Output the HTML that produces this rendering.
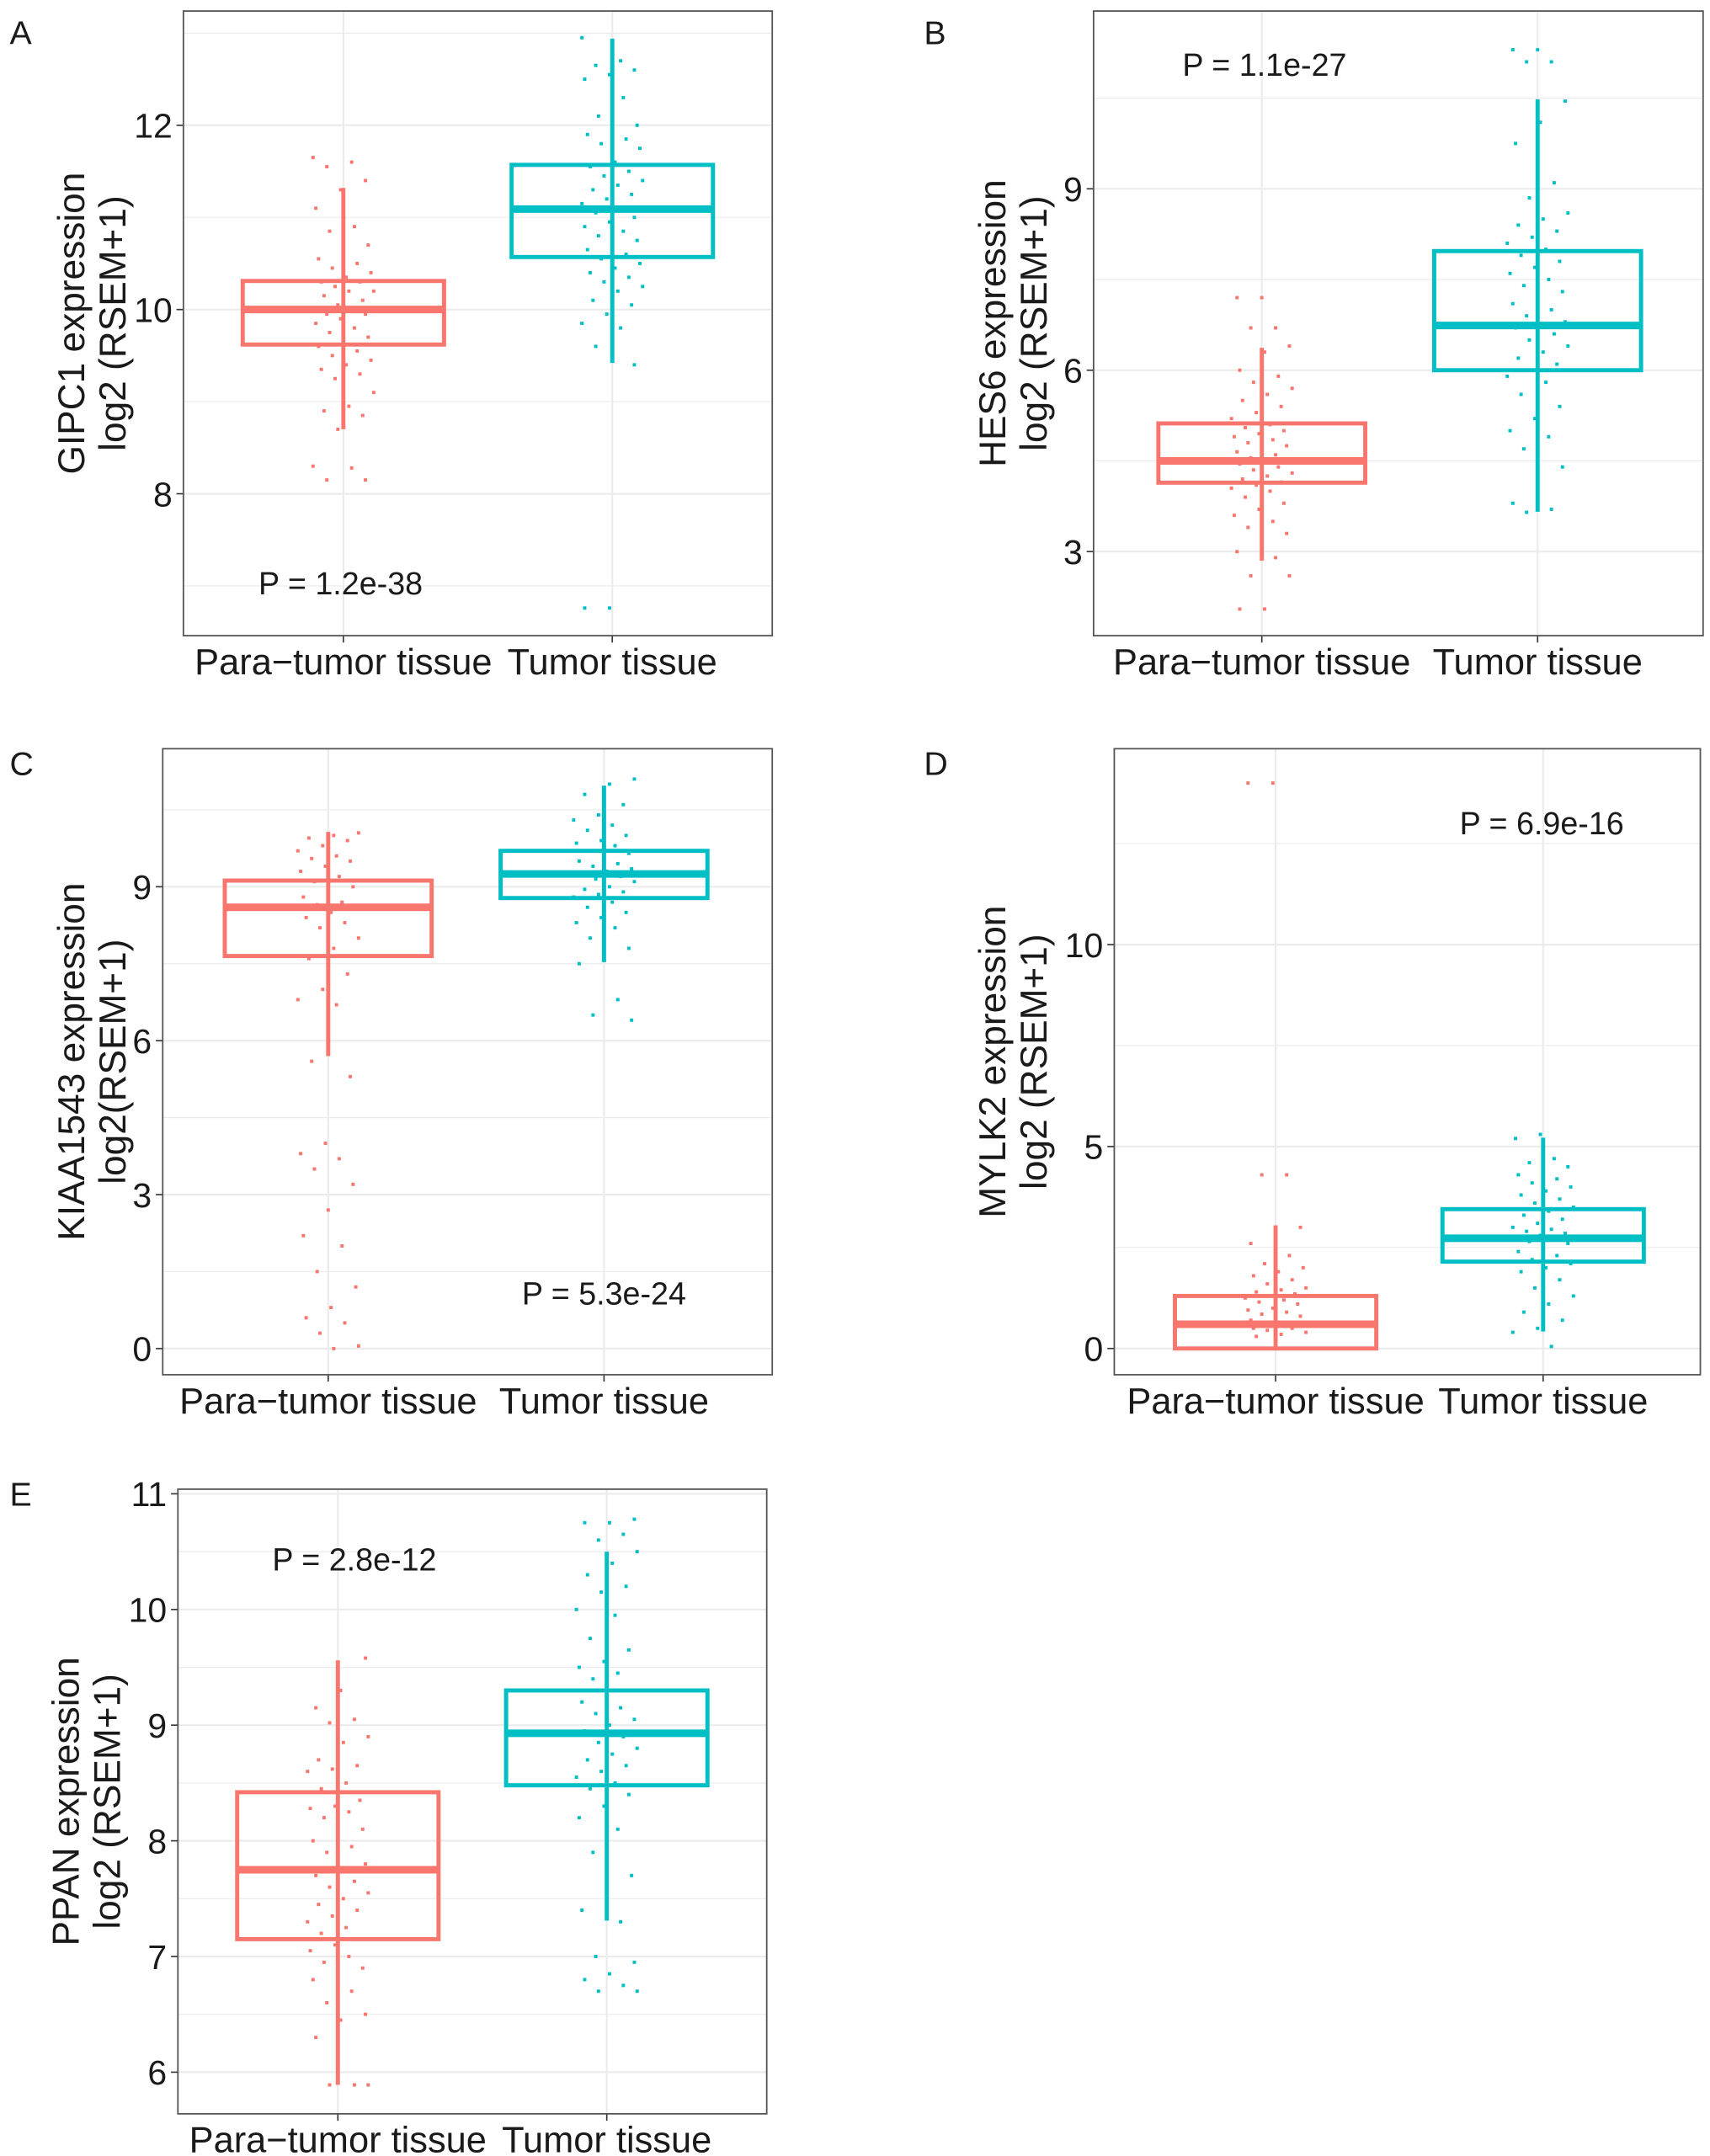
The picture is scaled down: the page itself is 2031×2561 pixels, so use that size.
<!DOCTYPE html>
<html><head><meta charset="utf-8">
<style>
html,body{margin:0;padding:0;background:#fff;}
svg{display:block;}
text{font-family:"Liberation Sans",Arial,sans-serif;fill:#1a1a1a;}
</style></head>
<body>
<svg id="fig" width="2031" height="2561" viewBox="0 0 1240 1563.6" preserveAspectRatio="none" xmlns="http://www.w3.org/2000/svg"></svg>
<script>
// ---------- data ----------
const categories = ["Para\u2212tumor tissue", "Tumor tissue"];

const panelLetters = ["A","B","C","D","E"];
const geneLabels = ["GIPC1 expression","HES6 expression","KIAA1543 expression","MYLK2 expression","PPAN expression"];
const unitLabels = ["log2 (RSEM+1)","log2 (RSEM+1)","log2(RSEM+1)","log2 (RSEM+1)","log2 (RSEM+1)"];
const pLabels = ["P = 1.2e-38","P = 1.1e-27","P = 5.3e-24","P = 6.9e-16","P = 2.8e-12"];

const ticksA = [8,10,12];
const ticksB = [3,6,9];
const ticksC = [0,3,6,9];
const ticksD = [0,5,10];
const ticksE = [6,7,8,9,10,11];

// box stats: [lowerWhisker, Q1, median, Q3, upperWhisker]
const boxA_para = [8.7, 9.62, 10.0, 10.31, 11.32];
const boxA_tumor = [9.42, 10.57, 11.09, 11.57, 12.94];
const boxB_para = [2.85, 4.14, 4.5, 5.12, 6.37];
const boxB_tumor = [3.66, 6.0, 6.74, 7.97, 10.48];
const boxC_para = [5.7, 7.65, 8.6, 9.12, 10.07];
const boxC_tumor = [7.53, 8.78, 9.25, 9.7, 10.97];
const boxD_para = [0.0, 0.0, 0.6, 1.3, 3.05];
const boxD_tumor = [0.42, 2.15, 2.73, 3.45, 5.22];
const boxE_para = [5.89, 7.15, 7.75, 8.42, 9.56];
const boxE_tumor = [7.31, 8.48, 8.93, 9.3, 10.5];

// jittered sample values
const ptsA_para = [11.65,11.6,11.55,11.4,11.3,11.1,10.9,10.85,10.7,10.65,10.55,10.5,10.45,10.4,10.35,10.3,10.3,10.25,10.2,10.2,10.15,10.1,10.05,10.0,10.0,9.95,9.95,9.9,9.85,9.8,9.75,9.7,9.65,9.6,9.55,9.5,9.45,9.4,9.35,9.3,9.25,9.1,8.95,8.9,8.85,8.7,8.3,8.28,8.15,8.15];
const ptsA_tumor = [12.95,12.7,12.65,12.6,12.55,12.5,12.3,12.1,12.0,11.95,11.9,11.85,11.8,11.75,11.6,11.55,11.5,11.45,11.4,11.35,11.3,11.25,11.2,11.15,11.1,11.05,11.0,10.95,10.9,10.85,10.8,10.75,10.7,10.65,10.6,10.55,10.5,10.45,10.4,10.35,10.3,10.25,10.2,10.1,10.05,9.95,9.85,9.8,9.6,9.4,6.76,6.76];
const ptsB_para = [7.2,7.2,6.7,6.7,6.4,6.3,6.0,5.9,5.8,5.7,5.6,5.5,5.4,5.3,5.2,5.1,5.05,5.0,4.95,4.9,4.85,4.8,4.75,4.7,4.65,4.6,4.55,4.5,4.5,4.45,4.4,4.35,4.3,4.25,4.2,4.15,4.1,4.05,4.0,3.9,3.8,3.7,3.6,3.5,3.4,3.3,3.2,3.0,2.9,2.6,2.6,2.05,2.05];
const ptsB_tumor = [11.3,11.3,11.1,11.1,10.45,10.1,9.75,9.1,8.85,8.6,8.5,8.4,8.3,8.2,8.1,8.0,7.9,7.8,7.7,7.6,7.5,7.4,7.3,7.2,7.1,7.0,6.9,6.8,6.75,6.7,6.6,6.5,6.4,6.3,6.2,6.1,6.0,5.9,5.8,5.6,5.4,5.2,5.0,4.9,4.7,4.4,3.9,3.8,3.7,3.65];
const ptsC_para = [10.05,10.0,9.95,9.9,9.8,9.7,9.6,9.55,9.5,9.4,9.3,9.2,9.1,9.0,8.9,8.8,8.7,8.65,8.6,8.5,8.4,8.3,8.2,8.0,7.8,7.6,7.3,7.0,6.8,6.7,5.6,5.3,4.0,3.8,3.7,3.5,3.2,2.7,2.2,2.0,1.5,1.2,0.8,0.6,0.5,0.3,0.05,0.0];
const ptsC_tumor = [11.1,11.0,10.8,10.6,10.4,10.3,10.2,10.1,10.0,9.9,9.85,9.8,9.7,9.65,9.6,9.5,9.45,9.4,9.35,9.3,9.25,9.2,9.15,9.1,9.0,8.95,8.9,8.85,8.8,8.7,8.6,8.5,8.4,8.3,8.2,8.0,7.8,7.6,7.5,6.8,6.5,6.4];
const ptsD_para = [14.0,14.0,4.3,4.3,3.0,2.8,2.6,2.3,2.1,2.0,1.9,1.8,1.7,1.6,1.5,1.45,1.4,1.35,1.3,1.25,1.2,1.15,1.1,1.0,0.95,0.9,0.85,0.8,0.75,0.7,0.65,0.6,0.6,0.55,0.5,0.5,0.45,0.4,0.35,0.3];
const ptsD_tumor = [5.3,5.2,4.7,4.6,4.5,4.4,4.3,4.2,4.1,4.0,3.9,3.8,3.7,3.6,3.5,3.4,3.3,3.2,3.1,3.0,2.95,2.9,2.85,2.8,2.75,2.7,2.65,2.6,2.5,2.4,2.3,2.2,2.1,2.0,1.9,1.7,1.5,1.3,1.1,0.9,0.7,0.5,0.4,0.05];
const ptsE_para = [9.58,9.3,9.15,9.05,9.02,8.9,8.85,8.7,8.65,8.62,8.6,8.5,8.45,8.35,8.3,8.28,8.25,8.2,8.1,8.05,8.0,7.95,7.9,7.8,7.75,7.7,7.65,7.6,7.55,7.5,7.45,7.4,7.35,7.3,7.25,7.2,7.15,7.1,7.05,7.0,6.95,6.9,6.85,6.8,6.7,6.6,6.5,6.45,6.3,5.89,5.89,5.89];
const ptsE_tumor = [10.78,10.75,10.75,10.65,10.6,10.5,10.4,10.3,10.2,10.15,10.0,9.95,9.75,9.65,9.55,9.5,9.45,9.4,9.3,9.25,9.2,9.15,9.1,9.05,9.0,8.95,8.9,8.85,8.8,8.75,8.7,8.65,8.6,8.55,8.5,8.45,8.4,8.3,8.2,8.1,7.9,7.7,7.6,7.4,7.3,7.0,6.95,6.85,6.8,6.75,6.7,6.7];

// ---------- layout (in 1240-wide viewBox units) ----------
const panels = [
 {letter:0, box:[133,8,560,461], dom:[6.46,13.24], ticks:ticksA, minorStep:1, cx:[249,444], hw:73, p:[247,423], bp:boxA_para, bt:boxA_tumor, pp:ptsA_para, pt:ptsA_tumor, lx:[15,22], yl:[52,82]},
 {letter:1, box:[793,8,1235,461], dom:[1.61,11.94], ticks:ticksB, minorStep:1.5, cx:[915,1115], hw:75, p:[917,47], bp:boxB_para, bt:boxB_tumor, pp:ptsB_para, pt:ptsB_tumor, lx:[678,22], yl:[720,750]},
 {letter:2, box:[118,543,560,997], dom:[-0.51,11.69], ticks:ticksC, minorStep:1.5, cx:[238,438], hw:75, p:[438,938], bp:boxC_para, bt:boxC_tumor, pp:ptsC_para, pt:ptsC_tumor, lx:[15,552], yl:[52,82]},
 {letter:3, box:[808,543,1233,997], dom:[-0.65,14.85], ticks:ticksD, minorStep:2.5, cx:[925,1119], hw:73, p:[1118,597], bp:boxD_para, bt:boxD_tumor, pp:ptsD_para, pt:ptsD_tumor, lx:[678,552], yl:[720,750]},
 {letter:4, box:[129,1080,556,1533], dom:[5.64,11.04], ticks:ticksE, minorStep:0.5, cx:[245,440], hw:73, p:[257,1131], bp:boxE_para, bt:boxE_tumor, pp:ptsE_para, pt:ptsE_tumor, lx:[15,1082], yl:[48,78]}
];
const RED="#F8766D", TEAL="#00BFC4";
const NS="http://www.w3.org/2000/svg";
const svg=document.getElementById('fig');
function mk(tag,attrs,parent,txt){const e=document.createElementNS(NS,tag);for(const k in attrs)e.setAttribute(k,attrs[k]);if(txt!==undefined)e.textContent=txt;(parent||svg).appendChild(e);return e;}

panels.forEach((P,pi)=>{
  const [x0,y0,x1,y1]=P.box;
  const y=v=>y1-(v-P.dom[0])/(P.dom[1]-P.dom[0])*(y1-y0);
  const g=mk('g',{});
  
  
  const bg=mk('rect',{x:x0,y:y0,width:x1-x0,height:y1-y0,fill:'#fff'},g);
  
  
  const step=P.minorStep;
  for(let v=Math.ceil(P.dom[0]/step)*step; v<=P.dom[1]; v+=step){
    const isMajor=P.ticks.some(t=>Math.abs(t-v)<1e-6);
    const ln=mk('line',{x1:x0,x2:x1,y1:y(v),y2:y(v),stroke:'#ebebeb','stroke-width':isMajor?1.3:0.7},g);
    
    
  }
  P.cx.forEach(cx=>{
    const ln=mk('line',{x1:cx,x2:cx,y1:y0,y2:y1,stroke:'#ebebeb','stroke-width':1.3},g);
    
    
  });
  P.ticks.forEach(t=>{
    const tk=mk('line',{x1:x0-5,x2:x0,y1:y(t),y2:y(t),stroke:'#333','stroke-width':1},g);
    
    
    const tl=mk('text',{x:x0-8,y:y(t)+9,'text-anchor':'end','font-size':25,fill:'#222'},g,String(t));
    
    
  });
  [[P.bp,P.pp,RED,0],[P.bt,P.pt,TEAL,1]].forEach(([b,pts,col,ci])=>{
    const cx=P.cx[ci];
    const wl=mk('line',{x1:cx,x2:cx,y1:y(b[0]),y2:y(b[4]),stroke:col,'stroke-width':3},g);
    
    
    pts.forEach((v,i)=>{
      const j=(((i*37+pi*11)%23)/22-0.5)*2*22;
      const c=mk('rect',{x:cx+j-1.2,y:y(v)-1.2,width:2.4,height:2.4,fill:col},g);
      
      
    });
    const r=mk('rect',{x:cx-P.hw,y:y(b[3]),width:2*P.hw,height:y(b[1])-y(b[3]),fill:'none',stroke:col,'stroke-width':3},g);
    
    
    const m=mk('line',{x1:cx-P.hw,x2:cx+P.hw,y1:y(b[2]),y2:y(b[2]),stroke:col,'stroke-width':5.5},g);
    
    
    const xt=mk('line',{x1:cx,x2:cx,y1:y1,y2:y1+5,stroke:'#333','stroke-width':1},g);
    
    
    const xl=mk('text',{x:cx,y:y1+28,'text-anchor':'middle','font-size':26.5,fill:'#222'},g,categories[ci]);
    
    
  });
  const border=mk('rect',{x:x0,y:y0,width:x1-x0,height:y1-y0,fill:'none',stroke:'#555','stroke-width':1.1},g);
  
  
  const pt=mk('text',{x:P.p[0],y:P.p[1]+8,'text-anchor':'middle','font-size':23,fill:'#111'},g,pLabels[pi]);
  
  
  const lt=mk('text',{x:P.lx[0]-8,y:P.lx[1]+10,'font-size':24,fill:'#111'},g,panelLetters[P.letter]);
  
  
  const yc=(y0+y1)/2;
  const t1=mk('text',{x:P.yl[0]+9,y:yc,'text-anchor':'middle','font-size':27,transform:`rotate(-90 ${P.yl[0]+9} ${yc})`,fill:'#111'},g,geneLabels[pi]);
  
  
  const t2=mk('text',{x:P.yl[1]+9,y:yc,'text-anchor':'middle','font-size':27,transform:`rotate(-90 ${P.yl[1]+9} ${yc})`,fill:'#111'},g,unitLabels[pi]);
  
  
});
</script>
</body></html>
